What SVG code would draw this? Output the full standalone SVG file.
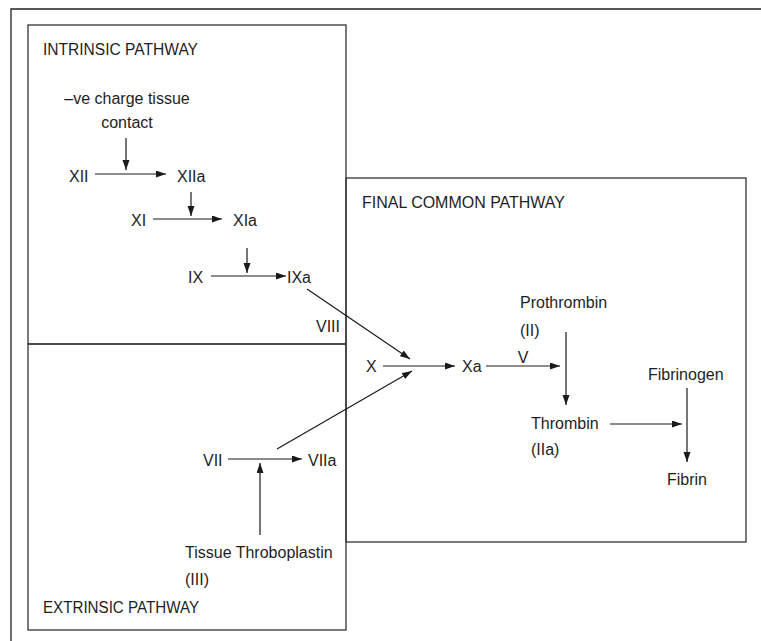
<svg xmlns="http://www.w3.org/2000/svg" width="761" height="641" viewBox="0 0 761 641">
  <defs>
    <marker id="ah" markerUnits="userSpaceOnUse" markerWidth="11" markerHeight="8" refX="10" refY="3.5" orient="auto">
      <path d="M0,0 L10,3.5 L0,7 z" fill="#1a1a1a"/>
    </marker>
    <style>
      .frame { fill: none; stroke: #222; stroke-width: 1.3; }
      .box { fill: none; stroke: #333; stroke-width: 1.3; }
      .lbl { font-family: "Liberation Sans", Arial, sans-serif; font-size: 16px; fill: #1e1e1e; }
      .conn line { stroke: #1a1a1a; stroke-width: 1.2; }
      .arr { marker-end: url(#ah); }
    </style>
  </defs>
  <rect width="761" height="641" fill="#ffffff"/>

  <g id="outer-frame">
    <path class="frame" d="M11,641 V9 H761"/>
  </g>

  <g id="intrinsic-pathway">
    <rect class="box" x="28" y="25" width="318" height="319"/>
    <text class="lbl" x="43" y="55" textLength="155" lengthAdjust="spacingAndGlyphs">INTRINSIC PATHWAY</text>
  </g>

  <g id="extrinsic-pathway">
    <rect class="box" x="28" y="344" width="318" height="286"/>
    <text class="lbl" x="43" y="613" textLength="156" lengthAdjust="spacingAndGlyphs">EXTRINSIC PATHWAY</text>
  </g>

  <g id="final-common-pathway">
    <rect class="box" x="346" y="178" width="400" height="364"/>
    <text class="lbl" x="362" y="208" textLength="203" lengthAdjust="spacingAndGlyphs">FINAL COMMON PATHWAY</text>
  </g>

  <g id="node-contact">
    <text class="lbl" x="127" y="104" text-anchor="middle">–ve charge tissue</text>
    <text class="lbl" x="127" y="128" text-anchor="middle">contact</text>
  </g>
  <g id="node-XII"><text class="lbl" x="69" y="182">XII</text></g>
  <g id="node-XIIa"><text class="lbl" x="177" y="182">XIIa</text></g>
  <g id="node-XI"><text class="lbl" x="131" y="226">XI</text></g>
  <g id="node-XIa"><text class="lbl" x="233" y="226">XIa</text></g>
  <g id="node-IX"><text class="lbl" x="188" y="283">IX</text></g>
  <g id="node-IXa"><text class="lbl" x="287" y="283">IXa</text></g>
  <g id="node-VIII"><text class="lbl" x="316" y="332">VIII</text></g>
  <g id="node-VII"><text class="lbl" x="203" y="466">VII</text></g>
  <g id="node-VIIa"><text class="lbl" x="308" y="466">VIIa</text></g>
  <g id="node-tissue-thromboplastin">
    <text class="lbl" x="185" y="558">Tissue Throboplastin</text>
    <text class="lbl" x="185" y="585">(III)</text>
  </g>
  <g id="node-X"><text class="lbl" x="366" y="372">X</text></g>
  <g id="node-Xa"><text class="lbl" x="462" y="372">Xa</text></g>
  <g id="node-V"><text class="lbl" x="523" y="363" text-anchor="middle">V</text></g>
  <g id="node-prothrombin">
    <text class="lbl" x="520" y="308">Prothrombin</text>
    <text class="lbl" x="520" y="336">(II)</text>
  </g>
  <g id="node-thrombin">
    <text class="lbl" x="531" y="429">Thrombin</text>
    <text class="lbl" x="531" y="455">(IIa)</text>
  </g>
  <g id="node-fibrinogen"><text class="lbl" x="648" y="380">Fibrinogen</text></g>
  <g id="node-fibrin"><text class="lbl" x="667" y="485">Fibrin</text></g>

  <g id="connectors" class="conn">
    <line class="arr" x1="126" y1="138" x2="126" y2="170"/>
    <line class="arr" x1="95" y1="174" x2="166" y2="174"/>
    <line class="arr" x1="191" y1="192" x2="191" y2="216"/>
    <line class="arr" x1="153" y1="219" x2="222" y2="219"/>
    <line class="arr" x1="247" y1="248" x2="247" y2="273"/>
    <line class="arr" x1="211" y1="276" x2="286" y2="276"/>
    <line class="arr" x1="307" y1="289" x2="410" y2="359"/>
    <line class="arr" x1="383" y1="366" x2="455" y2="366"/>
    <line class="arr" x1="486" y1="366" x2="560" y2="366"/>
    <line class="arr" x1="566" y1="332" x2="566" y2="405"/>
    <line class="arr" x1="610" y1="424" x2="682" y2="424"/>
    <line class="arr" x1="687" y1="388" x2="687" y2="462"/>
    <line class="arr" x1="228" y1="459" x2="302" y2="459"/>
    <line class="arr" x1="260" y1="535" x2="260" y2="463"/>
    <line class="arr" x1="277" y1="449" x2="412" y2="371"/>
  </g>
</svg>
